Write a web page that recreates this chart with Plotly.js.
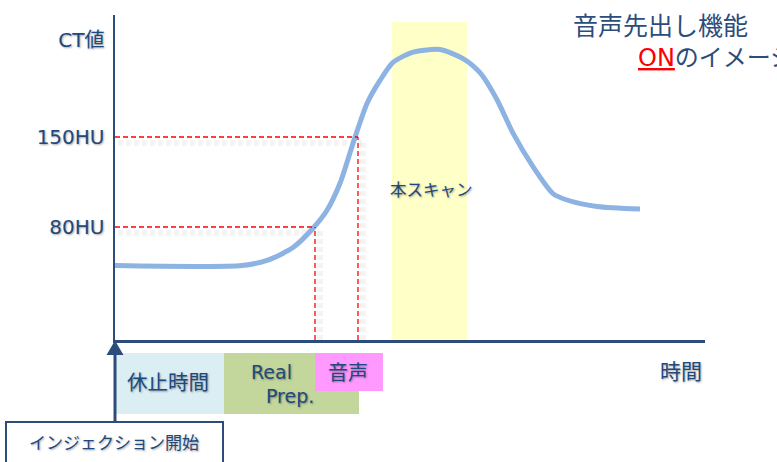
<!DOCTYPE html>
<html>
<head>
<meta charset="utf-8">
<script src="https://cdn.plot.ly/plotly-3.0.1.min.js"></script>
<style>html,body{margin:0;padding:0;background:#fff;}#chart{width:777px;height:462px;}</style>
</head>
<body>
<div id="chart"></div>
<script>
// ---- data (time in arbitrary seconds, CT value in HU) ----
const timeS = [0, 12.7, 15.2, 17.8, 19.8, 21.2, 22.5, 23.8, 25.2, 26.5, 27.8, 29.8, 32.5, 34.8, 36.5, 38.2, 39.8, 41.8, 43.8, 45.2, 48.2, 52.5];
const ctHU  = [50, 50, 54, 64, 79, 93, 114, 145, 176, 194, 208, 216, 218, 211, 200, 179, 153, 127, 106, 101, 96, 94];

const thresholdHU    = [80, 150];
const thresholdLabel = ['80HU', '150HU'];
const thresholdTime  = [20.0, 24.3];

const yLabelValue = 225.4;
const yLabelText  = 'CT値';

const scanStart = 27.7, scanEnd = 35.2, scanTopHU = 239.4;
const scanLabel = '本スキャン';

const phaseNames  = ['休止時間', 'Real Prep.', '音声'];
const phaseStart  = [0, 10.9, 20.0];
const phaseEnd    = [10.9, 24.4, 26.8];

const xTitle = '時間';
const injectLabel = 'インジェクション開始';
const titleLine1 = '音声先出し機能';
const titleLine2On = 'ON';
const titleLine2Rest = 'のイメージ';

// ---- layout helpers (pixel -> paper) ----
const PL = 115, PR = 705, PT = 15, PB = 340;
const px2x = p => (p - PL) / (PR - PL);
const py2y = p => (PB - p) / (PB - PT);
const Y0 = -7.9, Y1 = 244.9;

const navy = '#1F497D';
const lineNavy = '#2C4D7C';
const FONT = 'DejaVu Sans, Noto Sans CJK JP, sans-serif';
const shadow = '1px 1px 2px rgba(0,0,0,0.35)';

const traces = [{
  x: timeS, y: ctHU, type: 'scatter', mode: 'lines',
  line: {color: '#8DB3E2', width: 5, shape: 'spline', smoothing: 0.7},
  hoverinfo: 'skip'
}];

const shapes = [];
// scan band
shapes.push({type: 'rect', xref: 'x', yref: 'y', x0: scanStart, x1: scanEnd, y0: Y0, y1: scanTopHU,
  fillcolor: '#FFFFC8', line: {width: 0}, layer: 'below'});
// threshold lines with soft shadow
thresholdHU.forEach((hu, i) => {
  const t = thresholdTime[i];
  shapes.push({type: 'line', xref: 'x', yref: 'y', x0: 0.3, x1: t + 0.4, y0: hu - 4.5, y1: hu - 4.5,
    line: {color: 'rgba(0,0,0,0.045)', width: 6, dash: '5px,3px'}, layer: 'below'});
  shapes.push({type: 'line', xref: 'x', yref: 'y', x0: t + 0.5, x1: t + 0.5, y0: Y0, y1: hu - 3,
    line: {color: 'rgba(0,0,0,0.045)', width: 6, dash: '5px,3px'}, layer: 'below'});
  shapes.push({type: 'line', xref: 'x', yref: 'y', x0: 0, x1: t, y0: hu, y1: hu,
    line: {color: '#FF0000', width: 1.3, dash: '5px,3px'}});
  shapes.push({type: 'line', xref: 'x', yref: 'y', x0: t, x1: t, y0: Y0, y1: hu,
    line: {color: '#FF0000', width: 1.3, dash: '5px,3px'}});
});
// phase boxes
const phaseColors = ['#DAEEF3', '#C3D69B', '#FF99FF'];
const phaseBottom = [414, 414, 391];
phaseNames.forEach((n, i) => {
  shapes.push({type: 'rect', xref: 'x', yref: 'paper', x0: phaseStart[i], x1: phaseEnd[i],
    y0: py2y(phaseBottom[i]), y1: py2y(353), fillcolor: phaseColors[i], line: {width: 0}});
});
// arrow stem
shapes.push({type: 'line', xref: 'paper', yref: 'paper', x0: px2x(115), x1: px2x(115), y0: py2y(352), y1: py2y(422),
  line: {color: lineNavy, width: 3}});
// arrow head
shapes.push({type: 'path', xref: 'paper', yref: 'paper',
  path: `M${px2x(106.5)},${py2y(355)} L${px2x(115)},${py2y(340.5)} L${px2x(123.5)},${py2y(355)} Z`,
  fillcolor: lineNavy, line: {color: lineNavy, width: 0}});
// injection box
shapes.push({type: 'rect', xref: 'paper', yref: 'paper', x0: px2x(6), x1: px2x(223), y0: py2y(480), y1: py2y(422),
  fillcolor: '#FFFFFF', line: {color: lineNavy, width: 2}});

const ann = (text, xpx, ypx, size, opts = {}) => Object.assign({
  text, xref: 'paper', yref: 'paper', x: px2x(xpx), y: py2y(ypx), showarrow: false,
  xanchor: 'center', yanchor: 'middle',
  font: {family: FONT, size, color: navy, shadow}
}, opts);

const annotations = [
  ann(scanLabel, 431, 190, 16.5),
  ann(phaseNames[0], 168, 383, 20.5),
  ann('Real', 271, 372, 19),
  ann('Prep.', 290, 396, 19),
  ann(phaseNames[2], 348, 373, 20),
  ann(xTitle, 681, 372, 21),
  ann(injectLabel, 114, 443, 17),
  ann(titleLine1, 571, 26, 25, {xanchor: 'left', font: {family: FONT, size: 25, color: '#2C4D7C'}}),
  ann(`<span style="color:#FF0000"><u>${titleLine2On}</u></span>${titleLine2Rest}`, 636, 58, 24,
      {xanchor: 'left', font: {family: FONT, size: 24, color: '#2C4D7C'}})
];

const layout = {
  width: 777, height: 462,
  margin: {l: PL, r: 777 - PR, t: PT, b: 462 - PB, pad: 0},
  paper_bgcolor: '#FFFFFF', plot_bgcolor: '#FFFFFF',
  showlegend: false,
  xaxis: {range: [0, 59], showline: true, linecolor: lineNavy, linewidth: 2.5, showgrid: false,
    zeroline: false, showticklabels: false, ticks: '', fixedrange: true},
  yaxis: {range: [Y0, Y1], showline: true, linecolor: lineNavy, linewidth: 2.5, showgrid: false,
    zeroline: false, ticks: '',
    tickvals: thresholdHU.concat([yLabelValue]), ticktext: thresholdLabel.concat([yLabelText]),
    tickfont: {family: FONT, size: 20, color: navy, shadow}, ticklabelstandoff: 4},
  shapes, annotations
};

Plotly.newPlot('chart', traces, layout, {displayModeBar: false, staticPlot: true});
</script>
</body>
</html>
